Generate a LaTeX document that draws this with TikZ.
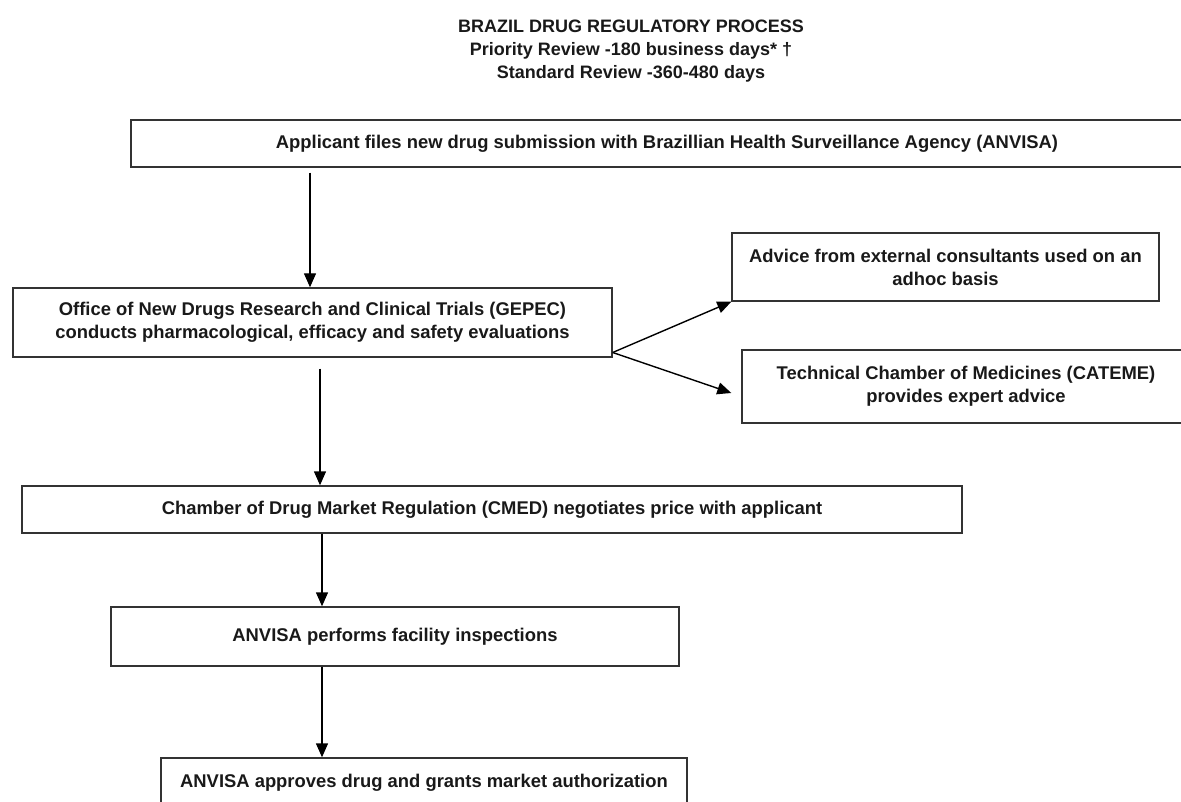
\documentclass[tikz,border=0pt]{standalone}
\usepackage{fontspec}
\setmainfont{Liberation Sans}
\usetikzlibrary{arrows.meta}

\begin{document}
\begin{tikzpicture}[x=1pt,y=-1pt,
  box/.style={draw=black!80,line width=1.4pt,inner sep=0pt,align=center,
    text=black!90,font=\bfseries\fontsize{18.4}{23}\selectfont},
  arr/.style={line width=1.4pt,-{Triangle[length=14pt,width=12pt]}}]

\useasboundingbox (0,0) rectangle (1181,802);
\clip (0,0) rectangle (1181,802);

% titre
\node[align=center,text=black!90,font=\bfseries\fontsize{18}{23}\selectfont] (titre) at (631,51)
  {BRAZIL DRUG REGULATORY PROCESS\\Priority Review -180 business days* †\\Standard Review -360-480 days};

% les boites
\node[box,minimum width=1072pt,minimum height=47pt] (submit) at (667,143.5)
  {Applicant files new drug submission with Brazillian Health Surveillance Agency (ANVISA)};
\node[box,minimum width=599pt,minimum height=69pt] (gepec) at (312.5,322.5)
  {Office of New Drugs Research and Clinical Trials (GEPEC)\\conducts pharmacological, efficacy and safety evaluations};
\node[box,minimum width=427pt,minimum height=68pt] (consult) at (945.5,267)
  {Advice from external consultants used on an\\adhoc basis};
\node[box,minimum width=448pt,minimum height=73pt] (cateme) at (966,386.5)
  {Technical Chamber of Medicines (CATEME)\\provides expert advice};
\node[box,minimum width=940pt,minimum height=47pt] (cmed) at (492,509.5)
  {Chamber of Drug Market Regulation (CMED) negotiates price with applicant};
\node[box,minimum width=568pt,minimum height=59pt] (inspect) at (395,636.5)
  {ANVISA performs facility inspections};
\node[box,minimum width=526pt,minimum height=50pt] (approve) at (424,783)
  {ANVISA approves drug and grants market authorization};

% fleches
\draw[arr] ([xshift=-357pt,yshift=-5pt]submit.south) -- ([xshift=-2.5pt]gepec.north);
\draw[arr] ([xshift=7.5pt,yshift=-11pt]gepec.south) -- ([xshift=7.5pt]gepec.south |- cmed.north);
\draw[arr] ([xshift=-170pt]cmed.south) -- ([xshift=-170pt]cmed.south |- inspect.north);
\draw[arr] ([xshift=-73pt]inspect.south) -- ([xshift=-73pt]inspect.south |- approve.north);
\draw[arr] ([yshift=-30pt]gepec.east) -- (consult.south west);
\draw[arr] ([yshift=-30pt]gepec.east) -- ([xshift=-10pt,yshift=-6.5pt]cateme.west);
\end{tikzpicture}
\end{document}
